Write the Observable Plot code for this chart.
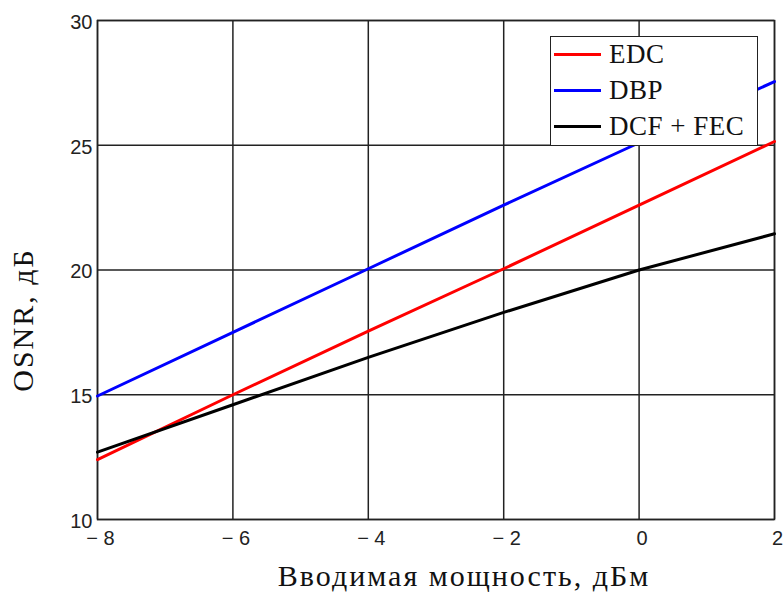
<!DOCTYPE html>
<html><head><meta charset="utf-8">
<script src="https://cdn.jsdelivr.net/npm/d3@7"></script>
<script src="https://cdn.jsdelivr.net/npm/@observablehq/plot@0.6"></script>
<style>
body{margin:0;background:#fff;}
#wrap{position:relative;width:784px;height:596px;}
#legend{position:absolute;left:550px;top:36px;width:206px;height:108px;border:1.5px solid #222;background:#fff;color:#111;}
.row{position:absolute;left:0;height:36px;display:flex;align-items:center;font-family:'Liberation Serif','Times New Roman',serif;font-size:27px;letter-spacing:0.5px;}
.sw{width:47px;height:3px;margin-left:3px;margin-right:8px;}
g.axlabel text{letter-spacing:2px;}
</style></head>
<body><div id="wrap"></div>
<script>
const xs = [-8, -6, -4, -2, 0, 2];
const edc = [12.4, 15.0, 17.55, 20.05, 22.6, 25.15];
const dbp = [14.95, 17.5, 20.05, 22.6, 25.1, 27.55];
const dcf = [12.7, 14.6, 16.5, 18.3, 20.0, 21.45];
const seriesNames = ["EDC", "DBP", "DCF + FEC"];
const seriesColors = ["#ff0000", "#0000ff", "#000000"];
const xTicks = [-8, -6, -4, -2, 0, 2];
const yTicks = [10, 15, 20, 25, 30];
const xLabel = "Вводимая мощность, дБм";
const yLabel = "OSNR, дБ";

const allSeries = [edc, dbp, dcf];
const data = [];
allSeries.forEach((vals, si) => vals.forEach((v, i) => data.push({x: xs[i], y: v, s: seriesNames[si]})));

const serif = "'Liberation Serif','Times New Roman',serif";
const chart = Plot.plot({
  width: 784, height: 596,
  marginLeft: 97, marginRight: 10, marginTop: 20, marginBottom: 77,
  style: {fontFamily: "'Liberation Sans',Arial,sans-serif", fontSize: "20px", color: "#222", background: "#fff"},
  x: {domain: [-8, 2]},
  y: {domain: [10, 30]},
  color: {domain: seriesNames, range: seriesColors},
  marks: [
    Plot.gridX(xTicks, {stroke: "#222", strokeOpacity: 1, strokeWidth: 1.5}),
    Plot.gridY(yTicks, {stroke: "#222", strokeOpacity: 1, strokeWidth: 1.5}),
    Plot.frame({stroke: "#222", strokeWidth: 1.5}),
    Plot.axisX(xTicks, {tickSize: 0, tickPadding: 11, label: null, dx: 3,
      tickFormat: d => d < 0 ? "\u2212 " + (-d) : String(d)}),
    Plot.axisY(yTicks, {tickSize: 0, tickPadding: 5, label: null, dy: 2}),
    Plot.line(data, {x: "x", y: "y", z: "s", stroke: "s", strokeWidth: 3}),
    Plot.text([xLabel], {className: "axlabel", frameAnchor: "bottom", textAnchor: "middle", dy: 66, dx: 28, fontFamily: serif, fontSize: 30, fill: "#111"}),
    Plot.text([yLabel], {className: "axlabel", frameAnchor: "left", textAnchor: "middle", lineAnchor: "middle", dx: -74, dy: 50, rotate: -90, fontFamily: serif, fontSize: 30, fill: "#111"})
  ]
});
const wrap = document.getElementById("wrap");
wrap.appendChild(chart);
const lg = document.createElement("div");
lg.id = "legend";
seriesNames.forEach((n, i) => {
  const r = document.createElement("div");
  r.className = "row";
  r.style.top = (i * 36 - 1) + "px";
  const sw = document.createElement("div");
  sw.className = "sw";
  sw.style.background = seriesColors[i];
  const t = document.createElement("span");
  t.textContent = n;
  r.appendChild(sw); r.appendChild(t);
  lg.appendChild(r);
});
wrap.appendChild(lg);
</script></body></html>
